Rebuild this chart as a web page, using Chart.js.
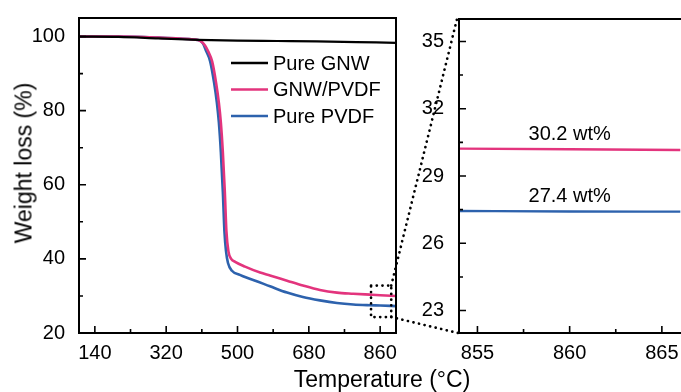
<!DOCTYPE html>
<html lang="en">
<head>
    <meta charset="UTF-8">
    <title>TGA | Weight loss</title>
    <script src="https://cdn.jsdelivr.net/npm/chart.js@4.4.0/dist/chart.umd.min.js"></script>
    <style>
      body { margin: 0; background: #fff; }
      #wrap { position: relative; width: 681px; height: 392px; overflow: hidden; font-family: "Liberation Sans", Arial, sans-serif; }
      #wrap canvas { position: absolute; top: 0; }
      .title { position: absolute; font-size: 23px; color: #000; white-space: nowrap; }
    </style>
</head>
<body>
<div id="wrap">
  <canvas id="chartMain" width="430" height="392" style="left:0"></canvas>
  <canvas id="chartInset" width="268" height="392" style="left:420px"></canvas>
  <canvas id="links" width="681" height="392" style="left:0;pointer-events:none"></canvas>
  <div class="title" id="ytitle" style="left:24px;top:163px;transform:translate(-50%,-50%) rotate(-90deg)">Weight loss (%)</div>
  <div class="title" id="xtitle" style="left:382px;top:379px;transform:translate(-50%,-50%)">Temperature (°C)</div>
</div>
<script>
// main panel data (temperature in °C, weight in %)
const gnwTemp = [100, 200, 300, 400, 500, 600, 700, 800, 900];
const gnwWeight = [100, 99.9, 99.5, 99.1, 98.9, 98.8, 98.7, 98.5, 98.3];

const pvdfTemp = [100, 200, 300, 390, 405, 413, 420, 431, 441, 448, 453, 458, 463, 467, 471, 476, 486, 506, 524, 545, 582, 625, 665, 708, 751, 792, 834, 860, 900];
const pvdfWeight = [100, 100, 99.7, 99.2, 98.9, 98.1, 96.3, 93.3, 87.5, 82.1, 76.8, 68.8, 58.1, 47.5, 42.1, 38.9, 36.8, 35.7, 34.9, 34.1, 32.6, 30.9, 29.7, 28.8, 28.1, 27.7, 27.5, 27.42, 27.25];

const compTemp = [100, 200, 300, 390, 405, 418, 426, 436, 446, 453, 458, 463, 468, 472, 477, 484, 494, 519, 557, 582, 625, 665, 708, 751, 792, 834, 860, 900];
const compWeight = [100, 100, 99.7, 99.2, 98.9, 97.6, 96.0, 93.3, 87.5, 82.1, 76.8, 68.8, 58.1, 47.5, 42.1, 40.0, 39.2, 37.9, 36.3, 35.5, 34.1, 32.8, 31.6, 30.9, 30.6, 30.35, 30.2, 30.0];

// inset (zoom of the end of the run)
const insetTemp = [854, 860, 866];
const insetComp = [30.22, 30.19, 30.16];
const insetPvdf = [27.44, 27.42, 27.41];
const insetNotes = ['30.2 wt%', '27.4 wt%'];

// axes
const mainXTicks = [140, 320, 500, 680, 860];
const mainYTicks = [20, 40, 60, 80, 100];
const insetXTicks = [855, 860, 865];
const insetYTicks = [23, 26, 29, 32, 35];

// zoom box on the main panel, in data units
const boxX = [837, 888];
const boxY = [24.3, 32.8];

const colors = { gnw: '#000000', comp: '#e3347d', pvdf: '#2d62ad' };
const FONT = '"Liberation Sans", Arial, sans-serif';

function pts(xs, ys) {
  return xs.map((x, i) => ({ x: x, y: ys[i] }));
}

function minors(ticks, lo, hi) {
  const step = ticks[1] - ticks[0];
  const out = [];
  for (let i = -1; i < ticks.length; i++) {
    const v = (i < 0 ? ticks[0] - step : ticks[i]) + step / 2;
    if (v > lo && v < hi) out.push(v);
  }
  return out;
}

// frame + inward ticks, like the origin plots
const framePlugin = {
  id: 'frame',
  afterDatasetsDraw(chart) {
    const ctx = chart.ctx;
    const a = chart.chartArea;
    const xs = chart.scales.x, ys = chart.scales.y;
    ctx.save();
    ctx.strokeStyle = '#000';
    ctx.lineWidth = 2;
    ctx.strokeRect(a.left, a.top, a.right - a.left, a.bottom - a.top);
    ctx.lineWidth = 1.6;
    ctx.beginPath();
    const xt = xs.ticks.map(t => t.value);
    const yt = ys.ticks.map(t => t.value);
    xt.forEach(v => { const p = xs.getPixelForValue(v); ctx.moveTo(p, a.bottom); ctx.lineTo(p, a.bottom - 7); });
    minors(xt, xs.min, xs.max).forEach(v => { const p = xs.getPixelForValue(v); ctx.moveTo(p, a.bottom); ctx.lineTo(p, a.bottom - 4); });
    yt.forEach(v => { const p = ys.getPixelForValue(v); ctx.moveTo(a.left, p); ctx.lineTo(a.left + 7, p); });
    minors(yt, ys.min, ys.max).forEach(v => { const p = ys.getPixelForValue(v); ctx.moveTo(a.left, p); ctx.lineTo(a.left + 4, p); });
    ctx.stroke();
    ctx.restore();
  }
};

const legendPlugin = {
  id: 'innerLegend',
  afterDatasetsDraw(chart) {
    const ctx = chart.ctx;
    ctx.save();
    ctx.font = '20px ' + FONT;
    ctx.textBaseline = 'middle';
    chart.data.datasets.forEach((ds, i) => {
      const y = 63 + i * 26.5;
      ctx.strokeStyle = ds.borderColor;
      ctx.lineWidth = 2.5;
      ctx.beginPath();
      ctx.moveTo(231, y);
      ctx.lineTo(268, y);
      ctx.stroke();
      ctx.fillStyle = '#000';
      ctx.fillText(ds.label, 273, y + 1);
    });
    ctx.restore();
  }
};

const boxPlugin = {
  id: 'zoomBox',
  afterDatasetsDraw(chart) {
    const ctx = chart.ctx;
    const xs = chart.scales.x, ys = chart.scales.y;
    const x0 = xs.getPixelForValue(boxX[0]), x1 = xs.getPixelForValue(boxX[1]);
    const y0 = ys.getPixelForValue(boxY[1]), y1 = ys.getPixelForValue(boxY[0]);
    ctx.save();
    dotted(ctx);
    ctx.strokeRect(x0, y0, x1 - x0, y1 - y0);
    ctx.restore();
  }
};

const notePlugin = {
  id: 'notes',
  afterDatasetsDraw(chart) {
    const ctx = chart.ctx;
    const xs = chart.scales.x, ys = chart.scales.y;
    ctx.save();
    ctx.font = '20px ' + FONT;
    ctx.fillStyle = '#000';
    ctx.textAlign = 'center';
    ctx.textBaseline = 'middle';
    [insetComp[1], insetPvdf[1]].forEach((v, i) => {
      ctx.fillText(insetNotes[i], xs.getPixelForValue(860), ys.getPixelForValue(v) - 15);
    });
    ctx.restore();
  }
};

function dotted(ctx) {
  ctx.strokeStyle = '#000';
  ctx.lineWidth = 2.7;
  ctx.lineCap = 'round';
  ctx.setLineDash([0.1, 5.6]);
}

function scaleOpts(min, max, ticks, width, pad, isY) {
  return {
    type: 'linear',
    min: min,
    max: max,
    grid: { display: false },
    border: { display: false },
    ticks: { color: '#000', font: { family: FONT, size: 20 }, padding: pad, maxRotation: 0 },
    afterBuildTicks: s => { s.ticks = ticks.map(v => ({ value: v })); },
    afterFit: s => { if (isY) s.width = width; else s.height = width; }
  };
}

function lineSet(label, data, color, w) {
  return {
    label: label,
    data: data,
    borderColor: color,
    backgroundColor: color,
    borderWidth: w,
    pointRadius: 0,
    fill: false,
    cubicInterpolationMode: 'monotone'
  };
}

const mainChart = new Chart(document.getElementById('chartMain'), {
  type: 'line',
  data: {
    datasets: [
      lineSet('Pure GNW', pts(gnwTemp, gnwWeight), colors.gnw, 2.2),
      lineSet('GNW/PVDF', pts(compTemp, compWeight), colors.comp, 2.6),
      lineSet('Pure PVDF', pts(pvdfTemp, pvdfWeight), colors.pvdf, 2.6)
    ]
  },
  options: {
    responsive: false,
    animation: false,
    layout: { padding: { left: 0, right: 34, top: 15, bottom: 0 } },
    plugins: { legend: { display: false }, tooltip: { enabled: false } },
    scales: {
      x: scaleOpts(100, 900, mainXTicks, 59, 0, false),
      y: scaleOpts(20, 105, mainYTicks, 79, 6, true)
    }
  },
  plugins: [framePlugin, legendPlugin, boxPlugin]
});

const insetChart = new Chart(document.getElementById('chartInset'), {
  type: 'line',
  data: {
    datasets: [
      lineSet('GNW/PVDF', pts(insetTemp, insetComp), colors.comp, 2.4),
      lineSet('Pure PVDF', pts(insetTemp, insetPvdf), colors.pvdf, 2.4)
    ]
  },
  options: {
    responsive: false,
    animation: false,
    layout: { padding: { left: 0, right: 4, top: 15, bottom: 0 } },
    plugins: { legend: { display: false }, tooltip: { enabled: false } },
    scales: {
      x: scaleOpts(854, 866.2, insetXTicks, 59, 0, false),
      y: scaleOpts(22, 36, insetYTicks, 39, 7, true)
    }
  },
  plugins: [framePlugin, notePlugin]
});

// dotted lines from the zoom box to the inset frame
(function drawLinks() {
  const ctx = document.getElementById('links').getContext('2d');
  const mx = mainChart.scales.x, my = mainChart.scales.y;
  const ia = insetChart.chartArea;
  const off = 420;
  const bx = mx.getPixelForValue(boxX[1]);
  ctx.save();
  dotted(ctx);
  ctx.beginPath();
  ctx.moveTo(bx, my.getPixelForValue(boxY[1]));
  ctx.lineTo(ia.left + off - 2, ia.top);
  ctx.moveTo(bx, my.getPixelForValue(boxY[0]));
  ctx.lineTo(ia.left + off - 1, ia.bottom);
  ctx.stroke();
  ctx.restore();
})();
</script>
</body>
</html>
